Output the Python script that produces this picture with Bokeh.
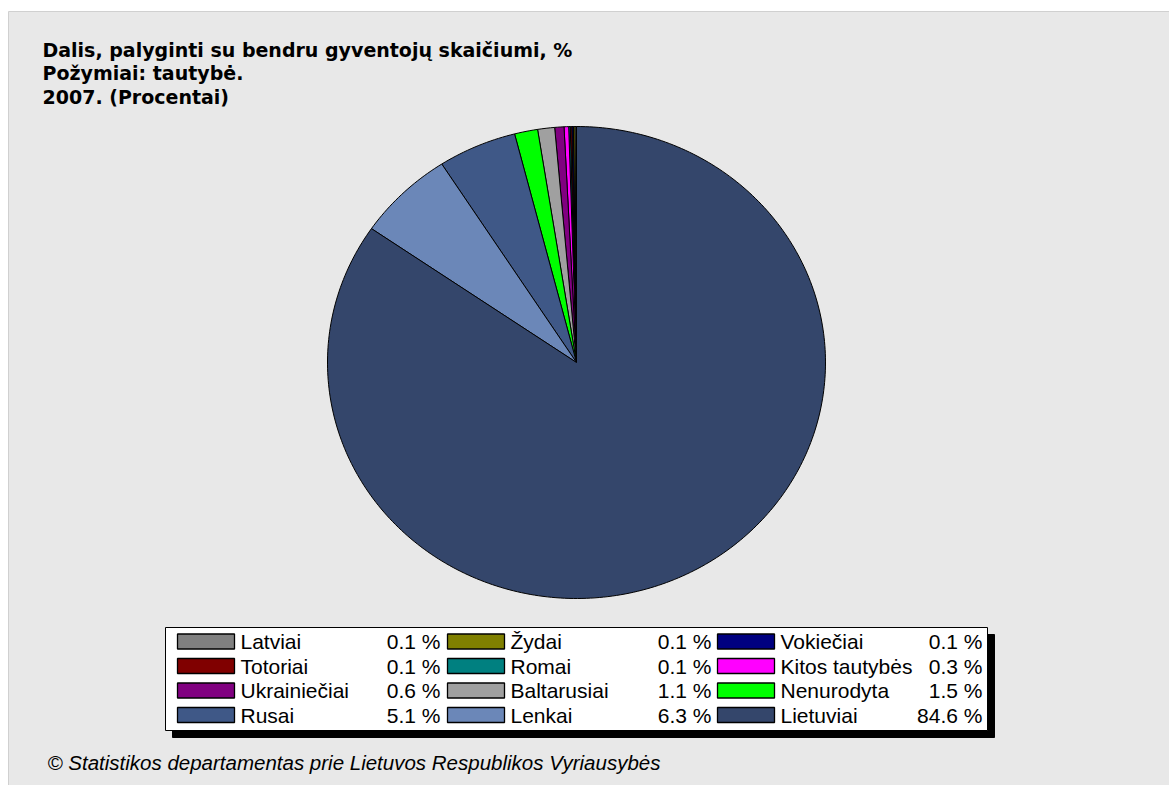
import numpy as np
from bokeh.plotting import figure
from bokeh.models import Range1d
from bokeh.core.properties import value
from bokeh.embed import file_html
from bokeh.resources import INLINE

# ---- data ----
categories = ["Latviai", "Žydai", "Vokiečiai", "Totoriai", "Romai", "Kitos tautybės",
              "Ukrainiečiai", "Baltarusiai", "Nenurodyta", "Rusai", "Lenkai", "Lietuviai"]
shares = [0.1, 0.1, 0.1, 0.1, 0.1, 0.3, 0.6, 1.1, 1.5, 5.1, 6.3, 84.6]
colors = ["#808080", "#808000", "#000080", "#800000", "#008080", "#ff00ff",
          "#800080", "#a0a0a0", "#00ff00", "#3f5887", "#6b87b8", "#34466b"]
title_lines = ["Dalis, palyginti su bendru gyventojų skaičiumi, %",
               "Požymiai: tautybė.",
               "2007. (Procentai)"]
footer = "© Statistikos departamentas prie Lietuvos Respublikos Vyriausybės"

# ---- layout (pixel space, y downward) ----
W, H = 1169, 785
p = figure(width=W, height=H, x_range=Range1d(0, W), y_range=Range1d(H, 0),
           min_border=0, toolbar_location=None, output_backend="svg")
p.axis.visible = False
p.grid.visible = False
p.outline_line_color = None
p.background_fill_color = "white"
p.border_fill_color = "white"

# panel
p.quad(left=[8], right=[W + 2], top=[11], bottom=[H + 2],
       fill_color="#e8e8e8", line_color="#d0d0d0", line_width=1)

# title
p.text(x=[42] * 3, y=[49, 72, 96], text=title_lines,
       text_font=value("DejaVu Sans"), text_font_style="bold", text_font_size="19px",
       text_color="black", text_baseline="alphabetic", text_align="left")

# pie (slightly elliptical, starting at 12 o'clock, counterclockwise)
cx, cy, rx, ry = 576, 362, 249, 236
vals = np.array(shares, dtype=float)
cum = np.concatenate([[0], np.cumsum(vals)]) / vals.sum()
xs, ys = [], []
for i in range(len(vals)):
    a0 = np.pi / 2 + cum[i] * 2 * np.pi
    a1 = np.pi / 2 + cum[i + 1] * 2 * np.pi
    n = max(2, int(np.ceil((a1 - a0) / (np.pi / 180))) + 1)
    t = np.linspace(a0, a1, n)
    xs.append([cx] + list(cx + rx * np.cos(t)))
    ys.append([cy] + list(cy - ry * np.sin(t)))
p.patches(xs=xs, ys=ys, fill_color=colors, line_color="black", line_width=1)

# legend box with shadow
FONT = "Liberation Sans"
L, R, T, B = 165, 987, 627, 730
p.quad(left=[L + 7], right=[R + 7], top=[T + 7], bottom=[B + 7],
       fill_color="black", line_color="black")
p.quad(left=[L], right=[R], top=[T], bottom=[B],
       fill_color="white", line_color="black", line_width=1)

row_c = [641 + 24.5 * (i // 3) for i in range(len(categories))]
col = [i % 3 for i in range(len(categories))]
sw_l = [177 + 270 * c for c in col]
p.quad(left=sw_l, right=[s + 57 for s in sw_l],
       top=[r - 7.5 for r in row_c], bottom=[r + 7.5 for r in row_c],
       fill_color=colors, line_color="black", line_width=1.3)
p.text(x=[240 + 270 * c for c in col], y=row_c, text=categories,
       text_font=value(FONT), text_font_size="21px", text_color="black",
       text_baseline="alphabetic", text_align="left")
p.text(x=[440 + 271 * c for c in col], y=row_c,
       text=[f"{v:.1f} %" for v in shares],
       text_font=value(FONT), text_font_size="21px", text_color="black",
       text_baseline="alphabetic", text_align="right")

# footer
p.text(x=[47], y=[762], text=[footer], text_font=value(FONT),
       text_font_style="italic", text_font_size="20.5px", text_color="black",
       text_baseline="alphabetic", text_align="left")

open("out.html", "w").write(file_html(p, INLINE))
